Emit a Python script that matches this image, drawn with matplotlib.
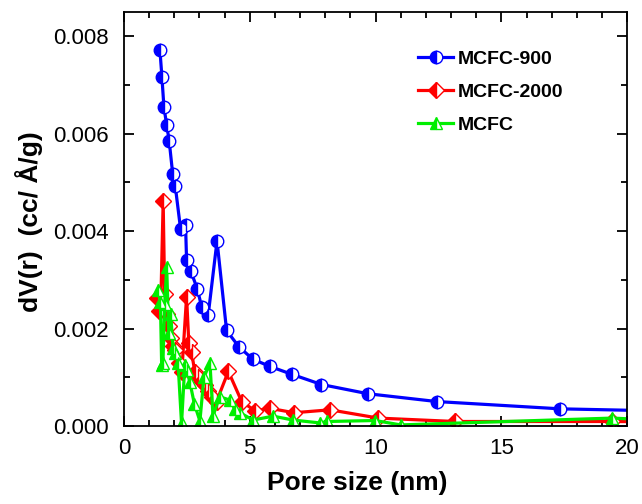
import matplotlib.pyplot as plt
import numpy as np

plt.rcParams['font.family'] = ['Liberation Sans', 'DejaVu Sans']

# pore size (nm) and dV(r) (cc/A/g) for each sample
x_900 = [1.43, 1.51, 1.59, 1.70, 1.80, 1.94, 2.04, 2.25, 2.45, 2.49, 2.65, 2.92, 3.09, 3.35,
         3.70, 4.08, 4.56, 5.12, 5.81, 6.67, 7.85, 9.70, 12.43, 17.34, 22.0]
y_900 = [7.73, 7.17, 6.55, 6.18, 5.85, 5.17, 4.93, 4.05, 4.12, 3.40, 3.19, 2.81, 2.44, 2.28,
         3.80, 1.96, 1.63, 1.37, 1.22, 1.06, 0.85, 0.66, 0.50, 0.35, 0.30]

x_2000 = [1.33, 1.40, 1.47, 1.56, 1.62, 1.70, 1.78, 1.86, 1.95, 2.05, 2.17, 2.30, 2.49, 2.58,
          2.69, 2.82, 2.96, 3.10, 3.22, 3.35, 3.50, 3.68, 4.15, 4.68, 5.21, 5.81, 6.76, 8.19,
          10.11, 13.16, 19.39, 22.0]
y_2000 = [2.62, 2.36, 2.60, 4.61, 2.70, 2.30, 2.05, 1.80, 1.65, 1.55, 1.30, 1.10, 2.65, 1.70,
          1.51, 1.10, 1.01, 0.91, 0.85, 0.71, 0.60, 0.50, 1.12, 0.50, 0.31, 0.36, 0.27, 0.33,
          0.16, 0.09, 0.09, 0.08]

x_mcfc = [1.35, 1.45, 1.50, 1.55, 1.62, 1.70, 1.78, 1.86, 1.95, 2.05, 2.15, 2.29, 2.42, 2.49,
          2.62, 2.80, 3.02, 3.18, 3.42, 3.54, 3.80, 4.21, 4.40, 4.61, 5.13, 5.93, 6.72, 7.80,
          8.06, 9.98, 11.0, 19.4, 22.0]
y_mcfc = [2.80, 2.55, 1.25, 1.29, 2.50, 3.27, 1.90, 2.30, 1.60, 1.50, 1.30, 0.05, 1.25, 1.15,
          0.90, 0.45, 0.10, 1.00, 1.29, 0.20, 0.60, 0.53, 0.35, 0.27, 0.12, 0.20, 0.12, 0.06,
          0.09, 0.11, 0.02, 0.16, 0.10]

series = [
    ("MCFC-900", x_900, y_900, '#0000ff', 'o'),
    ("MCFC-2000", x_2000, y_2000, '#ff0000', 'D'),
    ("MCFC", x_mcfc, y_mcfc, '#00ee00', '^'),
]

fig = plt.figure(figsize=(6.42, 5.04), dpi=100)
ax = fig.add_axes([0.193, 0.155, 0.784, 0.821])

for name, xs, ys, col, mk in series:
    ms = 9 if mk != 'D' else 8
    ax.plot(xs, np.array(ys) * 1e-3, color=col, lw=2.3, marker=mk, ms=ms,
            fillstyle='left', markerfacecolor=col, markerfacecoloralt='white',
            markeredgecolor=col, mew=1.0, label=name)

ax.set_xlim(0, 20)
ax.set_ylim(0, 0.0085)
ax.set_xticks([0, 5, 10, 15, 20])
ax.set_xticks(np.arange(0, 21, 1), minor=True)
ax.set_yticks([0, 0.002, 0.004, 0.006, 0.008])
ax.set_yticklabels(['0.000', '0.002', '0.004', '0.006', '0.008'])
ax.set_yticks(np.arange(0, 0.0085, 0.001), minor=True)
ax.tick_params(which='both', direction='in', top=True, right=True, labelsize=16, width=1.3)
ax.tick_params(which='major', length=7)
ax.tick_params(which='minor', length=4)
ax.tick_params(axis='x', pad=9)
ax.tick_params(axis='y', pad=11)
for sp in ax.spines.values():
    sp.set_linewidth(1.3)

ax.set_xlabel('Pore size (nm)', fontsize=19, fontweight='bold')
ax.set_ylabel('dV(r)  (cc/ Å/g)', fontsize=19, fontweight='bold')
ax.xaxis.set_label_coords(0.463, -0.108)
ax.yaxis.set_label_coords(-0.16, 0.493)

ax.legend(loc='upper left', bbox_to_anchor=(0.55, 0.95), frameon=False,
          prop={'size': 14, 'weight': 'bold'}, handlelength=1.8, handletextpad=0.25,
          labelspacing=0.8)

fig.savefig('out.png', dpi=100)
